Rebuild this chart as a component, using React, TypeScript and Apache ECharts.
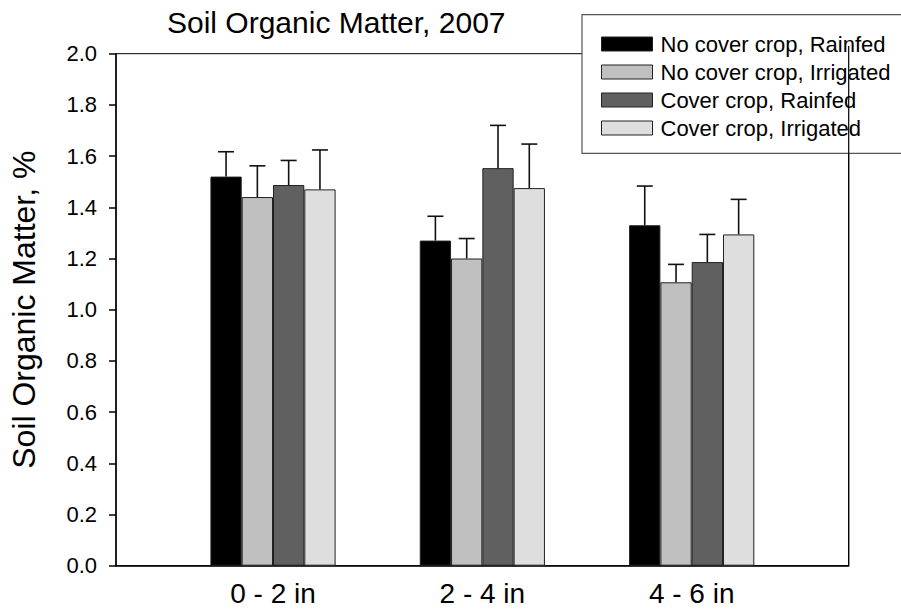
import React, { useEffect, useRef } from "react";
import * as echarts from "echarts";

// Soil depth classes
const categories = ["0 - 2 in", "2 - 4 in", "4 - 6 in"];
// Position of each depth class along the x axis
const categoryPositions = [0.75, 1.75, 2.75];

const seriesNames = [
  "No cover crop, Rainfed",
  "No cover crop, Irrigated",
  "Cover crop, Rainfed",
  "Cover crop, Irrigated",
];

// Mean soil organic matter (%) per depth
const noCoverRainfed = [1.52, 1.27, 1.33];
const noCoverIrrigated = [1.44, 1.2, 1.107];
const coverRainfed = [1.487, 1.553, 1.186];
const coverIrrigated = [1.47, 1.475, 1.294];

// Standard error (upper whisker length)
const noCoverRainfedErr = [0.097, 0.095, 0.153];
const noCoverIrrigatedErr = [0.122, 0.078, 0.07];
const coverRainfedErr = [0.096, 0.167, 0.108];
const coverIrrigatedErr = [0.154, 0.172, 0.137];

const yTicks = [0.0, 0.2, 0.4, 0.6, 0.8, 1.0, 1.2, 1.4, 1.6, 1.8, 2.0];

const seriesValues = [noCoverRainfed, noCoverIrrigated, coverRainfed, coverIrrigated];
const seriesErrors = [noCoverRainfedErr, noCoverIrrigatedErr, coverRainfedErr, coverIrrigatedErr];
const seriesColors = ["#000000", "#c0c0c0", "#606060", "#dedede"];

const W = 901;
const H = 612;
const GRID = { left: 115, top: 53.7, right: 52.3, bottom: 46.3 };
const BAR_W = 31.3;
const FONT = "'Liberation Sans', Arial, Helvetica, sans-serif";

export default function App() {
  const ref = useRef<HTMLDivElement | null>(null);

  useEffect(() => {
    if (!ref.current) return;
    const chart = echarts.init(ref.current, undefined, { renderer: "svg" });

    const barSeries = seriesNames.map((name, s) => ({
      name,
      type: "bar",
      barWidth: BAR_W,
      barGap: "0%",
      z: 2,
      itemStyle: { color: seriesColors[s], borderColor: "#222", borderWidth: 1 },
      data: categoryPositions.map((x, i) => [x, seriesValues[s][i]]),
    }));

    const errData: number[][] = [];
    seriesValues.forEach((vals, s) => {
      vals.forEach((v, i) => {
        errData.push([categoryPositions[i], v, v + seriesErrors[s][i], s]);
      });
    });

    const errorSeries = {
      type: "custom",
      z: 3,
      silent: true,
      encode: { x: 0, y: [1, 2] },
      data: errData,
      renderItem: (params: any, api: any) => {
        const x = api.value(0);
        const lo = api.coord([x, api.value(1)]);
        const hi = api.coord([x, api.value(2)]);
        const s = api.value(3);
        const cx = lo[0] + (s - 1.5) * BAR_W;
        const cap = 8;
        const style = { stroke: "#111", lineWidth: 1.6 };
        return {
          type: "group",
          children: [
            { type: "line", shape: { x1: cx, y1: lo[1], x2: cx, y2: hi[1] }, style },
            { type: "line", shape: { x1: cx - cap, y1: hi[1], x2: cx + cap, y2: hi[1] }, style },
          ],
        };
      },
    };

    const plotRight = W - GRID.right;

    chart.setOption({
      animation: false,
      backgroundColor: "#ffffff",
      textStyle: { fontFamily: FONT },
      title: {
        text: "Soil Organic Matter, 2007",
        left: 162,
        top: 2,
        textStyle: { fontSize: 30, fontWeight: "normal", color: "#000", fontFamily: FONT },
      },
      grid: {
        ...GRID,
        show: true,
        borderColor: "#000",
        borderWidth: 1,
        backgroundColor: "transparent",
      },
      legend: {
        orient: "vertical",
        left: 596,
        top: 28,
        itemWidth: 51,
        itemHeight: 14,
        itemGap: 6,
        z: 5,
        icon: "rect",
        data: seriesNames,
        itemStyle: { borderColor: "#222", borderWidth: 1 },
        textStyle: { fontSize: 22, color: "#000", fontFamily: FONT, padding: [0, 0, 0, 3] },
      },
      xAxis: {
        type: "value",
        min: 0,
        max: 3.5,
        axisLine: { show: true, lineStyle: { color: "#000", width: 1.5 } },
        axisTick: { show: false },
        splitLine: { show: false },
        axisLabel: {
          customValues: categoryPositions,
          formatter: (v: number) => {
            const idx = categoryPositions.findIndex((p) => Math.abs(p - v) < 1e-6);
            return idx >= 0 ? categories[idx] : "";
          },
          fontSize: 28,
          color: "#000",
          margin: 14,
          fontFamily: FONT,
        },
      },
      yAxis: {
        type: "value",
        min: 0,
        max: 2,
        interval: 0.2,
        name: "Soil Organic Matter, %",
        nameLocation: "middle",
        nameRotate: 90,
        nameGap: 76,
        nameTextStyle: { fontSize: 32, color: "#000", fontFamily: FONT },
        axisLine: { show: true, lineStyle: { color: "#000", width: 1.5 } },
        axisTick: { show: true, inside: false, length: 7, lineStyle: { color: "#000", width: 1.5 } },
        splitLine: { show: false },
        axisLabel: {
          formatter: (v: number) => {
            const t = yTicks.find((k) => Math.abs(k - v) < 1e-6);
            return t === undefined ? "" : t.toFixed(1);
          },
          fontSize: 22,
          color: "#000",
          margin: 19,
          fontFamily: FONT,
        },
      },
      graphic: [
        {
          type: "rect",
          z: 4,
          shape: { x: 582, y: 14.7, width: 400, height: 138.6 },
          style: { fill: "#ffffff", stroke: "#555", lineWidth: 1.2 },
        },
        {
          type: "line",
          z: 10,
          shape: { x1: plotRight, y1: 46, x2: plotRight, y2: H - GRID.bottom },
          style: { stroke: "#000", lineWidth: 1.2 },
        },
      ],
      series: [...barSeries, errorSeries],
    });

    return () => chart.dispose();
  }, []);

  return (
    <div
      ref={ref}
      style={{ position: "fixed", left: 0, top: 0, width: W, height: H, background: "#fff" }}
    />
  );
}
